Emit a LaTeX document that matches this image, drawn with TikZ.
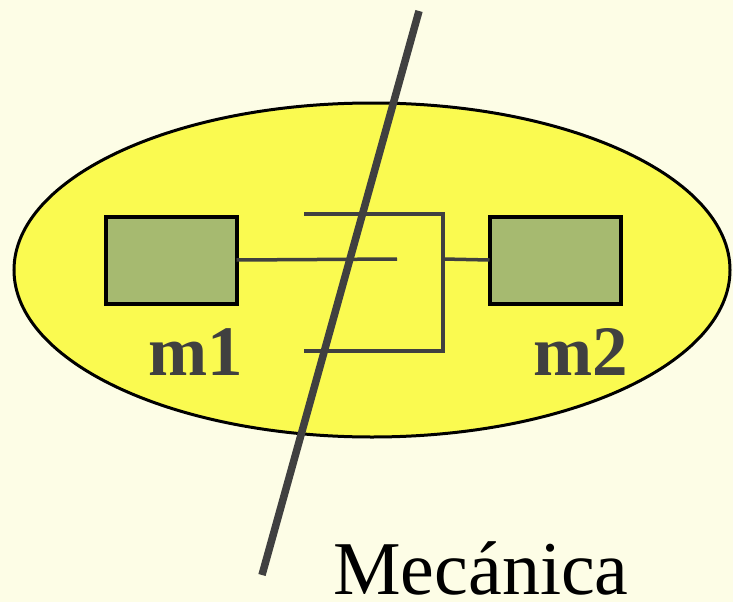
\documentclass[tikz,border=0pt]{standalone}
\usepackage{fontspec}
\setmainfont{Liberation Serif}
\definecolor{bgcol}{HTML}{FDFDE6}
\definecolor{ellcol}{HTML}{FAFA50}
\definecolor{boxcol}{HTML}{A6BA70}
\definecolor{linecol}{HTML}{404040}
\tikzset{
  massbox/.style={draw=black, fill=boxcol, line width=4pt, minimum width=131pt, minimum height=87pt, inner sep=0pt, outer sep=0pt},
  masslabel/.style={text=linecol, font=\fontsize{71}{80}\selectfont\bfseries, anchor=base, inner sep=0pt},
  wire/.style={draw=linecol, line width=3.5pt},
}
\begin{document}
\begin{tikzpicture}[x=1pt,y=-1pt]
\fill[bgcol] (0,0) rectangle (733,602);
\useasboundingbox (0,0) rectangle (733,602);
\draw[fill=ellcol, draw=black, line width=3pt] (372,270) ellipse [x radius=358, y radius=167];
\node[massbox] (m1) at (171,260) {};
\node[massbox] (m2) at (555,260) {};
\coordinate (a1) at (397,259);
\coordinate (f) at (443,259);
\coordinate (ft) at (443,214);
\coordinate (fb) at (443,351);
\coordinate (t1) at (304,214);
\coordinate (b1) at (304,351);
\draw[wire] (m1.east) -- (a1);
\draw[wire] (m2.west) -- (f);
\draw[wire, line join=miter] (t1) -- (ft) -- (fb) -- (b1);
\coordinate (d1) at (419,11);
\coordinate (d2) at (262,575);
\draw[draw=linecol, line width=7.5pt] (d1) -- (d2);
\node[masslabel] (l1) at (196,375) {m1};
\node[masslabel] (l2) at (581,375) {m2};
\node[anchor=base, inner sep=0pt, font=\fontsize{76}{84}\selectfont, text=black] (mec) at (481,594) {Mecánica};
\end{tikzpicture}
\end{document}
